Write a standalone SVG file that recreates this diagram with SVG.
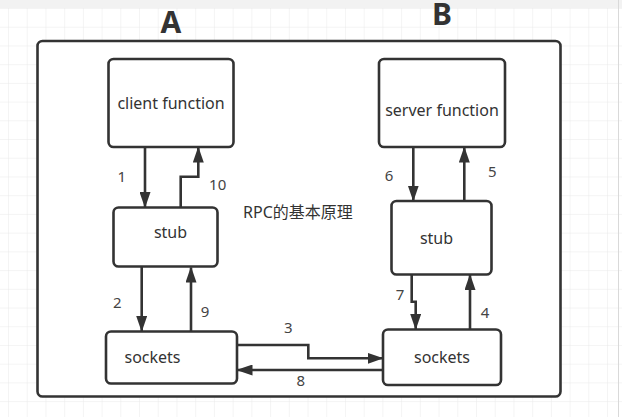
<svg xmlns="http://www.w3.org/2000/svg" width="622" height="417" viewBox="0 0 622 417">
<defs>
<pattern id="grid" x="8" y="8" width="18.72" height="18.72" patternUnits="userSpaceOnUse">
<path d="M0,0 H18.72 M0,0 V18.72" fill="none" stroke="#e9e9e9" stroke-width="1"/>
</pattern>
<marker id="arr" viewBox="0 0 16 11" refX="15" refY="5.5" markerWidth="16" markerHeight="11" markerUnits="userSpaceOnUse" orient="auto">
<path d="M0,0 L16,5.5 L0,11 Z" fill="#333333"/>
</marker>
</defs>
<style>
.box{fill:#ffffff;stroke:#333333;stroke-width:2.6}
.t{font-family:"Noto Sans","Noto Sans CJK SC",sans-serif;font-size:16px;fill:#333333}
.n{font-family:"Noto Sans",sans-serif;font-size:15px;fill:#444444;text-anchor:middle}
.h{font-family:"Noto Sans","Liberation Sans",sans-serif;font-size:30px;font-weight:bold;fill:#333333;text-anchor:middle}
.c{fill:none;stroke:#333333;stroke-width:2.6;marker-end:url(#arr)}
</style>
<rect x="0" y="0" width="622" height="417" fill="#ffffff"/>
<rect x="0" y="0" width="622" height="417" fill="url(#grid)"/>
<rect x="0" y="0" width="622" height="8" fill="#f2f2f2"/>
<line x1="618.5" y1="0" x2="618.5" y2="417" stroke="#d9d9d9" stroke-width="1"/>

<g id="container">
<rect class="box" x="37.5" y="41" width="523" height="355.5" rx="5"/>
</g>
<g id="labelA"><text class="h" x="171" y="33">A</text></g>
<g id="labelB"><text class="h" x="442" y="24.5">B</text></g>

<g id="client-function">
<rect class="box" x="108.5" y="59" width="125" height="88" rx="5"/>
<text class="t" x="171" y="108.5" text-anchor="middle">client function</text>
</g>
<g id="server-function">
<rect class="box" x="379" y="59" width="126" height="88" rx="5"/>
<text class="t" x="442" y="115.5" text-anchor="middle">server function</text>
</g>
<g id="stub-a">
<rect class="box" x="113.5" y="207.5" width="104" height="59" rx="5"/>
<text class="t" x="170.5" y="238" text-anchor="middle">stub</text>
</g>
<g id="stub-b">
<rect class="box" x="391.5" y="201" width="100" height="73.5" rx="5"/>
<text class="t" x="436.5" y="244" text-anchor="middle">stub</text>
</g>
<g id="sockets-a">
<rect class="box" x="106" y="331.5" width="131" height="52" rx="5"/>
<text class="t" x="124.5" y="362.5">sockets</text>
</g>
<g id="sockets-b">
<rect class="box" x="383" y="329.5" width="118" height="55.5" rx="5"/>
<text class="t" x="442" y="362.5" text-anchor="middle">sockets</text>
</g>
<g id="title">
<text class="t" x="243" y="217.5">RPC的基本原理</text>
</g>

<g id="connectors">
<path class="c" d="M145,147 V207"/>
<path class="c" d="M180.7,207.5 V176.7 H198.3 V147.5"/>
<path class="c" d="M141.7,266.7 V331"/>
<path class="c" d="M191,331.5 V267.5"/>
<path class="c" d="M413.3,147 V200.5"/>
<path class="c" d="M464.3,201 V147.5"/>
<path class="c" d="M411.7,274.5 V301.7 H415.7 V329"/>
<path class="c" d="M470,329.5 V275"/>
<path class="c" d="M237,345 H308.3 V358.3 H382.5"/>
<path class="c" d="M383,370 H237.5"/>
</g>
<g id="connector-labels">
<text class="n" x="121.7" y="182">1</text>
<text class="n" x="217.7" y="189.5">10</text>
<text class="n" x="117.3" y="307.5">2</text>
<text class="n" x="205" y="317">9</text>
<text class="n" x="389" y="180.5">6</text>
<text class="n" x="492.3" y="177">5</text>
<text class="n" x="400" y="299.5">7</text>
<text class="n" x="485" y="318">4</text>
<text class="n" x="288.3" y="332.5">3</text>
<text class="n" x="300.7" y="386">8</text>
</g>
</svg>
